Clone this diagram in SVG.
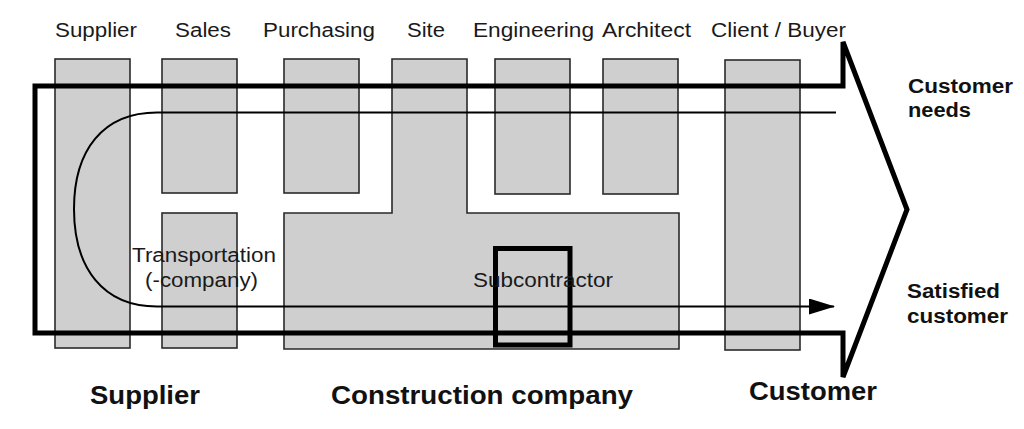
<svg xmlns="http://www.w3.org/2000/svg" width="1024" height="429" viewBox="0 0 1024 429">
  <defs>
    <style>
      .box { fill: #cfcfcf; stroke: #2a2a2a; stroke-width: 1.6; }
      .lbl { font-family: "Liberation Sans", Arial, sans-serif; font-size: 20px; fill: #1a1a1a; }
      .bold { font-family: "Liberation Sans", Arial, sans-serif; font-weight: bold; fill: #111; }
      .thick { fill: none; stroke: #000; stroke-width: 5; stroke-linejoin: miter; }
      .thin { fill: none; stroke: #000; stroke-width: 2; }
    </style>
    <marker id="ah" markerWidth="26" markerHeight="16" refX="25" refY="8" orient="auto" markerUnits="userSpaceOnUse">
      <path d="M0,0 L26,8 L0,16 Z" fill="#000"/>
    </marker>
  </defs>
  <rect width="1024" height="429" fill="#fff"/>

  <g id="headers">
    <text class="lbl" x="55" y="37" textLength="82" lengthAdjust="spacingAndGlyphs">Supplier</text>
    <text class="lbl" x="175" y="37" textLength="56" lengthAdjust="spacingAndGlyphs">Sales</text>
    <text class="lbl" x="263" y="37" textLength="112" lengthAdjust="spacingAndGlyphs">Purchasing</text>
    <text class="lbl" x="407" y="37" textLength="38" lengthAdjust="spacingAndGlyphs">Site</text>
    <text class="lbl" x="473" y="37" textLength="121" lengthAdjust="spacingAndGlyphs">Engineering</text>
    <text class="lbl" x="602" y="37" textLength="89" lengthAdjust="spacingAndGlyphs">Architect</text>
    <text class="lbl" x="711" y="37" textLength="135" lengthAdjust="spacingAndGlyphs">Client / Buyer</text>
  </g>

  <g id="supplier-col">
    <rect class="box" x="55" y="59" width="75" height="289"/>
  </g>
  <g id="sales-top">
    <rect class="box" x="162" y="59" width="75" height="134"/>
  </g>
  <g id="transportation">
    <rect class="box" x="162" y="213" width="75" height="135"/>
  </g>
  <g id="purchasing">
    <rect class="box" x="284" y="59" width="75" height="134"/>
  </g>
  <g id="construction">
    <path class="box" d="M284 213 H392 V59 H467 V213 H679 V349 H284 Z"/>
  </g>
  <g id="engineering">
    <rect class="box" x="495" y="59" width="75" height="135"/>
  </g>
  <g id="architect">
    <rect class="box" x="603" y="59" width="75" height="135"/>
  </g>
  <g id="client">
    <rect class="box" x="725" y="60" width="75" height="290"/>
  </g>

  <g id="connectors">
    <path class="thick" d="M35 86 H843 V42 L907 209.5 L843 377 V333 H35 Z"/>
    <path class="thin" d="M836 112.5 H157 C103 112.5 74 150 74 209 C74 268 103 306.5 157 306.5 H834" marker-end="url(#ah)"/>
  </g>

  <g id="subcontractor">
    <rect x="495.5" y="248.5" width="74.5" height="96.5" fill="none" stroke="#000" stroke-width="5"/>
  </g>

  <g id="inner-labels">
    <text class="lbl" x="132" y="262" textLength="144" lengthAdjust="spacingAndGlyphs">Transportation</text>
    <text class="lbl" x="145" y="287" textLength="113" lengthAdjust="spacingAndGlyphs">(-company)</text>
    <text class="lbl" x="473" y="287" textLength="140" lengthAdjust="spacingAndGlyphs">Subcontractor</text>
  </g>

  <g id="side-labels">
    <text class="bold" font-size="20" x="908" y="93" textLength="105" lengthAdjust="spacingAndGlyphs">Customer</text>
    <text class="bold" font-size="20" x="908" y="117" textLength="63" lengthAdjust="spacingAndGlyphs">needs</text>
    <text class="bold" font-size="20" x="907" y="298" textLength="93" lengthAdjust="spacingAndGlyphs">Satisfied</text>
    <text class="bold" font-size="20" x="907" y="323" textLength="101" lengthAdjust="spacingAndGlyphs">customer</text>
  </g>

  <g id="group-labels">
    <text class="bold" font-size="26" x="90" y="404" textLength="110" lengthAdjust="spacingAndGlyphs">Supplier</text>
    <text class="bold" font-size="26" x="331" y="404" textLength="302" lengthAdjust="spacingAndGlyphs">Construction company</text>
    <text class="bold" font-size="26" x="749" y="400" textLength="128" lengthAdjust="spacingAndGlyphs">Customer</text>
  </g>
</svg>
